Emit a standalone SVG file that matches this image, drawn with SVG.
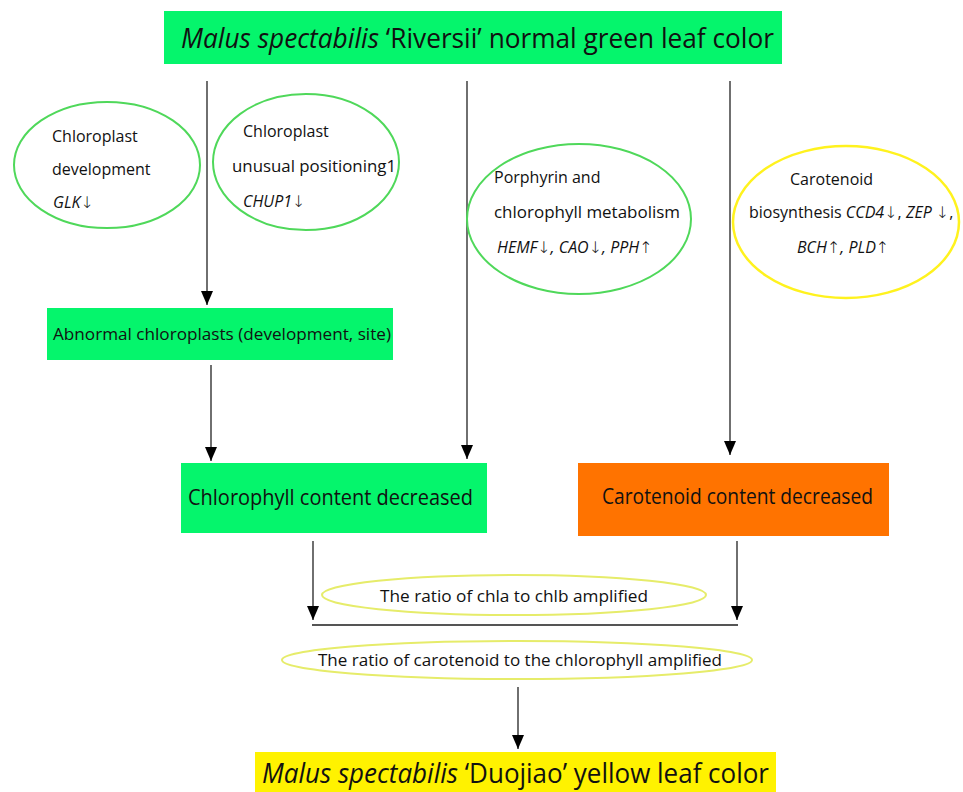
<svg xmlns="http://www.w3.org/2000/svg" width="963" height="792" viewBox="0 0 963 792">
<defs>
<style>
text{font-family:"Open Sans","Noto Sans","DejaVu Sans",sans-serif;fill:#111;}
.g{fill:#05F56C;}
.o{fill:#FF7300;}
.y{fill:#FFF200;}
.eg{fill:none;stroke:#4FD85A;stroke-width:2;}
.ey{fill:none;stroke:#FFF21E;stroke-width:2.5;}
.el{fill:none;stroke:#E6EC6A;stroke-width:2;}
.c{stroke:#222;stroke-width:1.3;fill:none;}
.t16{font-size:16px;}
.i{font-style:italic;}
.n{font-style:normal;font-weight:300;}
</style>
<marker id="ah" viewBox="0 0 14 12" refX="14" refY="6" markerWidth="14" markerHeight="12" markerUnits="userSpaceOnUse" orient="auto">
<path d="M0,0 L14,6 L0,12 Z" fill="#000"/>
</marker>
</defs>
<rect width="963" height="792" fill="#fff"/>

<g id="connectors">
<line class="c" x1="207" y1="81" x2="207" y2="305" marker-end="url(#ah)"/>
<line class="c" x1="467" y1="81" x2="467" y2="459" marker-end="url(#ah)"/>
<line class="c" x1="730" y1="81" x2="730" y2="455" marker-end="url(#ah)"/>
<line class="c" x1="211" y1="365" x2="211" y2="461" marker-end="url(#ah)"/>
<line class="c" x1="313" y1="541" x2="313" y2="620" marker-end="url(#ah)"/>
<line class="c" x1="737" y1="541" x2="737" y2="620" marker-end="url(#ah)"/>
<line x1="312" y1="625" x2="738" y2="625" stroke="#555" stroke-width="2.2"/>
<line class="c" x1="518" y1="687" x2="518" y2="749" marker-end="url(#ah)"/>
</g>

<g id="top">
<rect class="g" x="164" y="11" width="618" height="53"/>
<text x="181" y="48" font-size="27" textLength="593" lengthAdjust="spacingAndGlyphs"><tspan class="i">Malus spectabilis</tspan> ‘Riversii’ normal green leaf color</text>
</g>

<g id="chloroplast-development">
<ellipse class="eg" cx="107" cy="165" rx="93" ry="63"/>
<text class="t16" x="52" y="142">Chloroplast</text>
<text class="t16" x="52" y="175">development</text>
<text class="t16 i" x="53" y="208">GLK<tspan class="n">↓</tspan></text>
</g>

<g id="chloroplast-positioning">
<ellipse class="eg" cx="306" cy="162" rx="93" ry="68"/>
<text class="t16" x="243" y="137">Chloroplast</text>
<text class="t16" x="232" y="172" textLength="164" lengthAdjust="spacingAndGlyphs">unusual positioning1</text>
<text class="t16 i" x="243" y="207">CHUP1<tspan class="n">↓</tspan></text>
</g>

<g id="porphyrin">
<ellipse class="eg" cx="579" cy="219" rx="112" ry="75"/>
<text class="t16" x="494" y="183">Porphyrin and</text>
<text class="t16" x="494" y="218" textLength="186" lengthAdjust="spacingAndGlyphs">chlorophyll metabolism</text>
<text class="t16 i" x="497" y="253">HEMF<tspan class="n">↓</tspan>, CAO<tspan class="n">↓</tspan>, PPH<tspan class="n">↑</tspan></text>
</g>

<g id="carotenoid-biosynthesis">
<ellipse class="ey" cx="846" cy="222" rx="113" ry="76"/>
<text class="t16" x="790" y="185">Carotenoid</text>
<text class="t16" x="749" y="218">biosynthesis <tspan class="i">CCD4</tspan><tspan class="n">↓</tspan>, <tspan class="i">ZEP</tspan> <tspan class="n">↓</tspan>,</text>
<text class="t16 i" x="797" y="253">BCH<tspan class="n">↑</tspan>, PLD<tspan class="n">↑</tspan></text>
</g>

<g id="abnormal">
<rect class="g" x="47" y="308" width="346" height="52"/>
<text x="53" y="340" font-size="17" textLength="338" lengthAdjust="spacingAndGlyphs">Abnormal chloroplasts (development, site)</text>
</g>

<g id="chlorophyll-decreased">
<rect class="g" x="181" y="463" width="306" height="70"/>
<text x="188" y="505" font-size="21" textLength="285" lengthAdjust="spacingAndGlyphs">Chlorophyll content decreased</text>
</g>

<g id="carotenoid-decreased">
<rect class="o" x="578" y="463" width="311" height="73"/>
<text x="602" y="504" font-size="21" textLength="271" lengthAdjust="spacingAndGlyphs">Carotenoid content decreased</text>
</g>

<g id="ratio-chla-chlb">
<ellipse class="el" cx="514" cy="595" rx="192" ry="20"/>
<text class="t16" x="380" y="602" textLength="268" lengthAdjust="spacingAndGlyphs">The ratio of chla to chlb amplified</text>
</g>

<g id="ratio-carotenoid">
<ellipse class="el" cx="517" cy="660" rx="235" ry="19"/>
<text class="t16" x="318" y="666" textLength="404" lengthAdjust="spacingAndGlyphs">The ratio of carotenoid to the chlorophyll amplified</text>
</g>

<g id="bottom">
<rect class="y" x="255" y="752" width="521" height="40"/>
<text x="262" y="783" font-size="27" textLength="507" lengthAdjust="spacingAndGlyphs"><tspan class="i">Malus spectabilis</tspan> ‘Duojiao’ yellow leaf color</text>
</g>
</svg>
